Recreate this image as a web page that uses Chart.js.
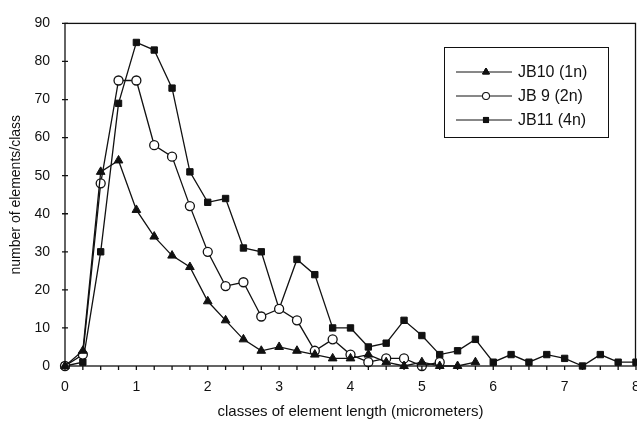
<!DOCTYPE html>
<html>
<head>
<meta charset="utf-8">
<script src="https://cdn.jsdelivr.net/npm/chart.js@4"></script>
<style>
  html, body { margin: 0; padding: 0; background: #fff; overflow: hidden; }
  #wrap { width: 637px; height: 426px; }
</style>
</head>
<body>
<div id="wrap"><canvas id="lengthChart" width="637" height="426"></canvas></div>
<script>
// classes of element length (micrometers)
const classes = [0, 0.25, 0.5, 0.75, 1, 1.25, 1.5, 1.75, 2, 2.25, 2.5, 2.75, 3, 3.25, 3.5, 3.75,
                 4, 4.25, 4.5, 4.75, 5, 5.25, 5.5, 5.75, 6, 6.25, 6.5, 6.75, 7, 7.25, 7.5, 7.75, 8];
const jb10 = [0, 4, 51, 54, 41, 34, 29, 26, 17, 12, 7, 4, 5, 4, 3, 2, 2, 3, 1, 0, 1, 0, 0, 1];
const jb9 = [0, 3, 48, 75, 75, 58, 55, 42, 30, 21, 22, 13, 15, 12, 4, 7, 3, 1, 2, 2, 0, 1];
const jb11 = [0, 1, 30, 69, 85, 83, 73, 51, 43, 44, 31, 30, 15, 28, 24, 10, 10, 5, 6, 12, 8, 3, 4, 7,
              1, 3, 1, 3, 2, 0, 3, 1, 1];
const seriesNames = ['JB10 (1n)', 'JB 9 (2n)', 'JB11 (4n)'];
const xTickLabels = ['0', '1', '2', '3', '4', '5', '6', '7', '8'];

const FONT = '"Liberation Sans", Arial, Helvetica, sans-serif';

function points(values) {
    return values.map((v, i) => ({ x: classes[i], y: v }));
}

// frame, tick marks and boxed legend
const framePlugin = {
    id: 'frame',
    afterDraw(chart) {
        const ctx = chart.ctx;
        const a = chart.chartArea;
        const xs = chart.scales.x, ys = chart.scales.y;
        ctx.save();
        ctx.strokeStyle = '#111';
        ctx.lineWidth = 1.3;
        ctx.strokeRect(a.left, a.top, a.right - a.left - 0.5, a.bottom - a.top);
        ctx.beginPath();
        xs.ticks.forEach(t => {
            const px = xs.getPixelForValue(t.value);
            ctx.moveTo(px, a.bottom);
            ctx.lineTo(px, a.bottom + 4);
        });
        ys.ticks.forEach(t => {
            const py = ys.getPixelForValue(t.value);
            ctx.moveTo(a.left - 3, py);
            ctx.lineTo(a.left + 3, py);
        });
        ctx.stroke();

        // legend
        const bx = 444, by = 47, bw = 164, bh = 90;
        ctx.lineWidth = 1;
        ctx.strokeRect(bx + 0.5, by + 0.5, bw, bh);
        ctx.font = '16px ' + FONT;
        ctx.textBaseline = 'middle';
        chart.data.datasets.forEach((ds, i) => {
            const y = by + 25 + i * 24;
            ctx.beginPath();
            ctx.moveTo(bx + 12, y);
            ctx.lineTo(bx + 68, y);
            ctx.lineWidth = 1;
            ctx.strokeStyle = '#111';
            ctx.stroke();
            ctx.beginPath();
            Chart.helpers.drawPoint(ctx, {
                pointStyle: ds.pointStyle,
                radius: ds.pointRadius * 0.8,
                rotation: 0,
                borderWidth: 1
            }, bx + 42, y);
            ctx.fillStyle = ds.pointBackgroundColor;
            ctx.fill();
            ctx.stroke();
            ctx.fillStyle = '#111';
            ctx.fillText(ds.label, bx + 74, y + 1);
        });
        ctx.restore();
    }
};

const ctx = document.getElementById('lengthChart').getContext('2d');
const lengthChart = new Chart(ctx, {
    type: 'line',
    data: {
        datasets: [{
            label: seriesNames[0],
            data: points(jb10),
            borderColor: '#111',
            borderWidth: 1.3,
            pointStyle: 'triangle',
            pointRadius: 5,
            pointBackgroundColor: '#111',
            pointBorderColor: '#111',
            pointBorderWidth: 1
        }, {
            label: seriesNames[1],
            data: points(jb9),
            borderColor: '#111',
            borderWidth: 1.3,
            pointStyle: 'circle',
            pointRadius: 4.5,
            pointBackgroundColor: '#fff',
            pointBorderColor: '#111',
            pointBorderWidth: 1.3
        }, {
            label: seriesNames[2],
            data: points(jb11),
            borderColor: '#111',
            borderWidth: 1.3,
            pointStyle: 'rect',
            pointRadius: 4.5,
            pointBackgroundColor: '#111',
            pointBorderColor: '#111',
            pointBorderWidth: 1
        }]
    },
    options: {
        animation: false,
        responsive: false,
        clip: false,
        layout: { autoPadding: false, padding: { top: 16, right: 1, left: 0, bottom: 0 } },
        plugins: { legend: { display: false }, tooltip: { enabled: false } },
        scales: {
            x: {
                type: 'linear',
                min: 0,
                max: 8,
                afterFit(s) { s.height = 60; s.paddingLeft = 0; s.paddingRight = 0; },
                grid: { display: false, drawTicks: false },
                border: { display: false },
                ticks: {
                    stepSize: 0.25,
                    autoSkip: false,
                    maxRotation: 0,
                    padding: 13,
                    color: '#111',
                    font: { family: FONT, size: 14 },
                    callback: v => Number.isInteger(v) ? xTickLabels[v] : ''
                },
                title: {
                    display: true,
                    text: 'classes of element length (micrometers)',
                    color: '#111',
                    font: { family: FONT, size: 15 },
                    padding: { top: 0, bottom: 5 }
                }
            },
            y: {
                min: 0,
                max: 90,
                afterFit(s) { s.width = 65; },
                grid: { display: false, drawTicks: false },
                border: { display: false },
                ticks: {
                    stepSize: 10,
                    padding: 15,
                    color: '#111',
                    font: { family: FONT, size: 14 }
                },
                title: {
                    display: true,
                    text: 'number of elements/class',
                    color: '#111',
                    font: { family: FONT, size: 14 },
                    padding: { top: 8, bottom: 0 }
                }
            }
        }
    },
    plugins: [framePlugin]
});
</script>
</body>
</html>
